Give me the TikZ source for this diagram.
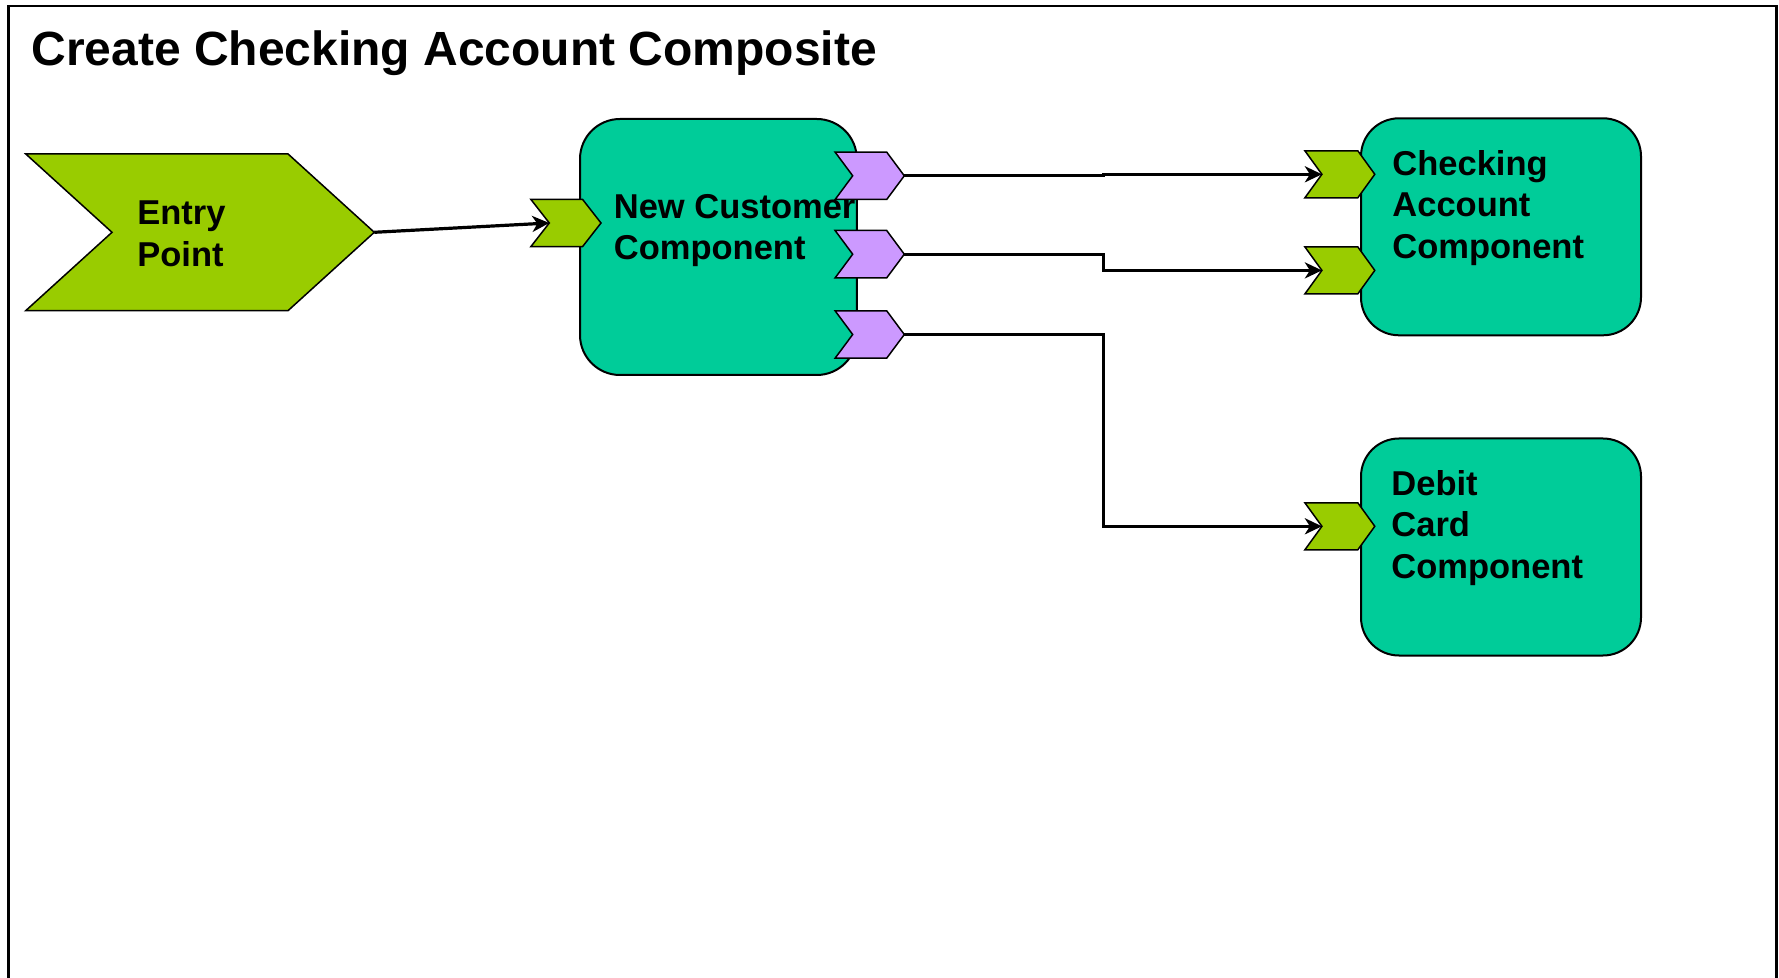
\documentclass[tikz,border=0pt]{standalone}
\usepackage{fontspec}
\setmainfont{Liberation Sans}
\usetikzlibrary{arrows.meta}
\definecolor{tealbox}{HTML}{00CC99}
\definecolor{limechev}{HTML}{99CC00}
\definecolor{lilacchev}{HTML}{CC99FF}
\newcommand\mylines[1]{\vtop{\baselineskip=20.75pt\lineskiplimit=0pt\lineskip=0pt #1}}
\tikzset{
  chevline/.style={draw=black, line width=0.75pt, line join=miter},
  pics/chev/.style n args={4}{code={
    \draw[chevline, fill=#4] (-#2,-#3) -- (#1-#2,-#3) -- (#1,0) -- (#1-#2,#3) -- (-#2,#3) -- (0,0) -- cycle;
    \coordinate (-notch) at (0,0);
    \coordinate (-tip) at (#1,0);
  }},
  comp/.style={draw=black, fill=tealbox, line width=1pt, rounded corners=19pt,
    minimum width=140pt, minimum height=108.5pt, inner sep=0pt},
  conn/.style={line width=1.6pt, -{Stealth[length=8.5pt,width=8pt,inset=2.5pt]}},
  lbl/.style={anchor=base west, inner sep=0pt, font=\bfseries\fontsize{17.25}{20.75}\selectfont},
  ttl/.style={anchor=base west, inner sep=0pt, font=\bfseries\fontsize{24}{28}\selectfont},
  frame/.style={line width=1.1pt}
}
\begin{document}
\begin{tikzpicture}[x=0.5pt, y=-0.5pt]
\useasboundingbox (0,0) rectangle (1779,978);
\fill[white] (0,0) rectangle (1779,978);
\draw[frame] (8.5,990) -- (8.5,6.3) -- (1776.5,6.3) -- (1776.5,990);

\node[ttl] (title) at (31,65.5) {Create Checking Account Composite};

% component boxes
\node[comp, minimum width=138.4pt, minimum height=128pt, rounded corners=20pt] (nc) at (718.4,247) {};
\node[comp] (ca) at (1501,226.8) {};
\node[comp] (dc) at (1501,547) {};

% chevrons
\pic (ep) at (112,232.3) {chev={262.3}{86.2}{78.3}{limechev}};
\pic (in1) at (549.3,223) {chev={51.7}{18.5}{23.7}{limechev}};
\pic (o1) at (852.7,175.8) {chev={51.6}{17.6}{23.7}{lilacchev}};
\pic (o2) at (852.7,254.2) {chev={51.6}{17.6}{23.7}{lilacchev}};
\pic (o3) at (852.7,334.5) {chev={51.6}{17.6}{23.7}{lilacchev}};
\pic (ca1) at (1321.9,174.3) {chev={52.9}{17}{23.5}{limechev}};
\pic (ca2) at (1321.9,270.4) {chev={52.9}{17}{23.5}{limechev}};
\pic (dc1) at (1321.9,526.3) {chev={52.9}{17}{23.5}{limechev}};

% labels
\node[lbl] (eptext) at (137,225) {\mylines{\hbox{Entry}\hbox{Point}}};
\node[lbl] (nctext) at (613.5,218.5) {\mylines{\hbox{New Customer}\hbox{Component}}};
\node[lbl] (catext) at (1392,175.2) {\mylines{\hbox{Checking}\hbox{Account}\hbox{Component}}};
\node[lbl] (dctext) at (1391,495.4) {\mylines{\hbox{Debit}\hbox{Card}\hbox{Component}}};

% connectors
\draw[conn] (ep-tip) -- (in1-notch);
\draw[conn] (o1-tip) -- ++(199,0) |- (ca1-notch);
\draw[conn] (o2-tip) -- ++(199,0) |- (ca2-notch);
\draw[conn] (o3-tip) -- ++(199,0) |- (dc1-notch);
\end{tikzpicture}
\end{document}
